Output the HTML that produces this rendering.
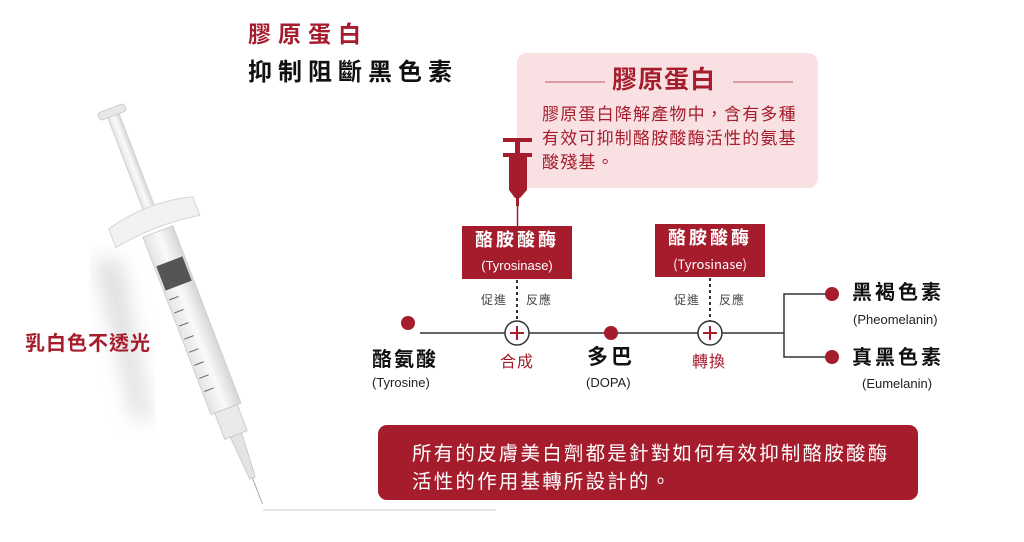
<!DOCTYPE html>
<html><head><meta charset="utf-8"><style>
body{margin:0;width:1024px;height:542px;background:#fff;position:relative;overflow:hidden;font-family:"Liberation Sans","Noto Sans CJK TC",sans-serif}
.a{position:absolute;white-space:nowrap;line-height:1}
.cjk{font-family:"Noto Sans CJK TC","Liberation Sans",sans-serif}
</style></head><body>
<svg width="1024" height="542" style="position:absolute;left:0;top:0">
<defs>
<linearGradient id="bar" x1="0" x2="1"><stop offset="0" stop-color="#e4e4e4"/><stop offset=".5" stop-color="#fafafa"/><stop offset="1" stop-color="#d6d6d6"/></linearGradient>
<filter id="bl"><feGaussianBlur stdDeviation="10"/></filter>
</defs>
<path d="M95 260 L135 420 L150 420 L120 260 Z" fill="#ccc" filter="url(#bl)" opacity=".7"/>
<g transform="translate(112,112) rotate(-21)">
 <rect x="-14" y="-4" width="28" height="8" rx="3" fill="#e8e8e8" stroke="#ccc"/>
 <rect x="-6" y="4" width="12" height="108" fill="url(#bar)" stroke="#d0d0d0"/>
 <path d="M-45 108 Q0 96 45 108 L45 128 Q0 120 -45 128 Z" fill="#f2f2f2" stroke="#d5d5d5"/>
 <rect x="-16" y="128" width="32" height="190" fill="url(#bar)" stroke="#cfcfcf"/>
 <rect x="-14" y="160" width="28" height="26" fill="#555"/>
 <g stroke="#666" stroke-width="1">
  <line x1="-14" y1="196" x2="-4" y2="196"/><line x1="-14" y1="210" x2="-4" y2="210"/><line x1="-14" y1="224" x2="-4" y2="224"/><line x1="-14" y1="238" x2="-4" y2="238"/><line x1="-14" y1="252" x2="-4" y2="252"/><line x1="-14" y1="266" x2="-4" y2="266"/><line x1="-14" y1="280" x2="-4" y2="280"/><line x1="-14" y1="294" x2="-4" y2="294"/>
 </g>
 <rect x="-12" y="318" width="24" height="28" fill="#eaeaea" stroke="#ccc"/>
 <path d="M-6 346 L6 346 L3 392 L-3 392 Z" fill="#e4e4e4" stroke="#ccc"/>
 <line x1="0" y1="392" x2="0" y2="420" stroke="#aaa"/>
</g>
<line x1="263" y1="510" x2="496" y2="510" stroke="#ddd" stroke-width="1.5"/>
<rect x="517" y="53" width="301" height="135" rx="10" fill="#f9e1e3"/>
<line x1="545" y1="82" x2="605" y2="82" stroke="#b56" stroke-width="1"/>
<line x1="733" y1="82" x2="793" y2="82" stroke="#b56" stroke-width="1"/>
<g fill="#a51c2c">
 <rect x="503" y="138" width="29" height="4"/>
 <rect x="515" y="142" width="5" height="12"/>
 <rect x="503" y="153" width="29" height="4"/>
 <path d="M509 157 L527 157 L527 190 L520 198 L515 198 L509 190 Z"/>
 <rect x="516" y="198" width="3" height="8"/>
</g>
<line x1="517.5" y1="205" x2="517.5" y2="226" stroke="#a51c2c" stroke-width="1.5"/>
<rect x="462" y="226" width="110" height="53" fill="#a51c2c"/>
<rect x="655" y="224" width="110" height="53" fill="#a51c2c"/>
<line x1="517" y1="280" x2="517" y2="321" stroke="#333" stroke-width="2" stroke-dasharray="3,3"/>
<line x1="710" y1="278" x2="710" y2="321" stroke="#333" stroke-width="2" stroke-dasharray="3,3"/>
<line x1="420" y1="333" x2="784" y2="333" stroke="#333" stroke-width="1.5"/>
<polyline points="825,294 784,294 784,357 825,357" fill="none" stroke="#333" stroke-width="1.5"/>
<circle cx="408" cy="323" r="7" fill="#a51c2c"/>
<circle cx="611" cy="333" r="7" fill="#a51c2c"/>
<circle cx="832" cy="294" r="7" fill="#a51c2c"/>
<circle cx="832" cy="357" r="7" fill="#a51c2c"/>
<g stroke="#333" stroke-width="1.5" fill="#fff"><circle cx="517" cy="333" r="12"/><circle cx="710" cy="333" r="12"/></g>
<g stroke="#a51c2c" stroke-width="2"><line x1="510" y1="333" x2="524" y2="333"/><line x1="517" y1="326" x2="517" y2="340"/><line x1="703" y1="333" x2="717" y2="333"/><line x1="710" y1="326" x2="710" y2="340"/></g>
<rect x="378" y="425" width="540" height="75" rx="9" fill="#a51c2c"/>
</svg>

<div class="a cjk" style="left:248px;top:21px;font-size:23px;font-weight:bold;color:#a51c2c;letter-spacing:7px">膠原蛋白</div>
<div class="a cjk" style="left:248px;top:58px;font-size:24px;font-weight:bold;color:#111;letter-spacing:6px">抑制阻斷黑色素</div>
<div class="a cjk" style="left:25px;top:332px;font-size:20px;font-weight:bold;color:#a51c2c;letter-spacing:1px">乳白色不透光</div>

<div class="a cjk" style="left:612px;top:66px;font-size:25px;font-weight:bold;color:#a51c2c;letter-spacing:1px">膠原蛋白</div>
<div class="a cjk" style="left:542px;top:101px;font-size:17px;color:#a51c2c;line-height:24px;letter-spacing:1.2px">膠原蛋白降解產物中，含有多種<br>有效可抑制酪胺酸酶活性的氨基<br>酸殘基。</div>

<div class="a cjk" style="left:462px;top:230px;width:110px;text-align:center;font-size:18px;font-weight:bold;color:#fff;letter-spacing:3px">酪胺酸酶</div>
<div class="a" style="left:462px;top:259px;width:110px;text-align:center;font-size:13px;color:#fff">(Tyrosinase)</div>
<div class="a cjk" style="left:655px;top:228px;width:110px;text-align:center;font-size:18px;font-weight:bold;color:#fff;letter-spacing:3px">酪胺酸酶</div>
<div class="a cjk" style="left:655px;top:257px;width:110px;text-align:center;font-size:13px;color:#fff">(Tyrosinase)</div>

<div class="a cjk" style="left:481px;top:294px;font-size:12px;color:#444;letter-spacing:1px">促進</div>
<div class="a cjk" style="left:526px;top:294px;font-size:12px;color:#444;letter-spacing:1px">反應</div>
<div class="a cjk" style="left:674px;top:294px;font-size:12px;color:#444;letter-spacing:1px">促進</div>
<div class="a cjk" style="left:719px;top:294px;font-size:12px;color:#444;letter-spacing:1px">反應</div>

<div class="a cjk" style="left:372px;top:348px;font-size:20px;font-weight:bold;color:#111;letter-spacing:2px">酪氨酸</div>
<div class="a" style="left:372px;top:376px;font-size:13px;color:#222">(Tyrosine)</div>
<div class="a cjk" style="left:500px;top:352px;font-size:16px;color:#a51c2c;letter-spacing:1px">合成</div>
<div class="a cjk" style="left:587px;top:346px;font-size:21px;font-weight:bold;color:#111;letter-spacing:3px">多巴</div>
<div class="a" style="left:586px;top:376px;font-size:13px;color:#222">(DOPA)</div>
<div class="a cjk" style="left:692px;top:352px;font-size:16px;color:#a51c2c;letter-spacing:1px">轉換</div>

<div class="a cjk" style="left:852px;top:281px;font-size:20px;font-weight:bold;color:#111;letter-spacing:3px">黑褐色素</div>
<div class="a" style="left:853px;top:313px;font-size:13px;color:#222">(Pheomelanin)</div>
<div class="a cjk" style="left:852px;top:346px;font-size:20px;font-weight:bold;color:#111;letter-spacing:3px">真黑色素</div>
<div class="a" style="left:862px;top:377px;font-size:13px;color:#222">(Eumelanin)</div>

<div class="a cjk" style="left:412px;top:438px;font-size:19.5px;color:#fff;line-height:28px;letter-spacing:2.2px">所有的皮膚美白劑都是針對如何有效抑制酪胺酸酶<br>活性的作用基轉所設計的。</div>
</body></html>
